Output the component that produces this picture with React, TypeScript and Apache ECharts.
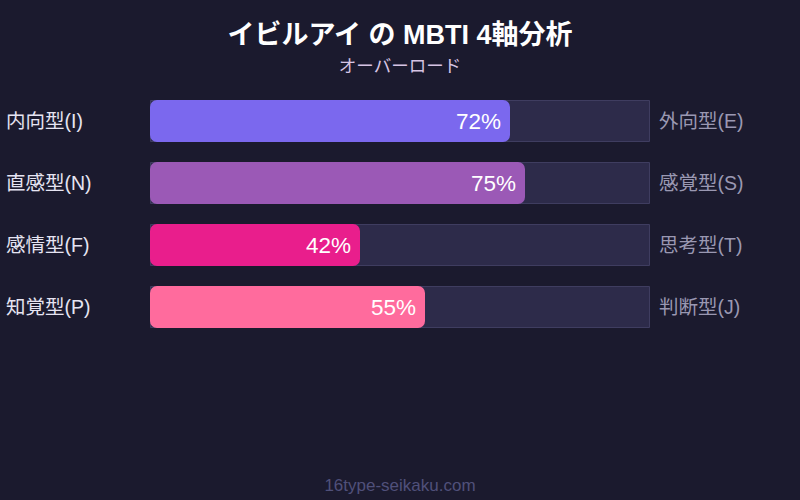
import React, { useEffect, useRef } from "react";
import * as echarts from "echarts";

const leftLabels = ["内向型(I)", "直感型(N)", "感情型(F)", "知覚型(P)"];
const rightLabels = ["外向型(E)", "感覚型(S)", "思考型(T)", "判断型(J)"];
const values = [72, 75, 42, 55];
const barColors = ["#7b68ee", "#9b59b6", "#e91e8c", "#ff6b9d"];
const fullValues = [100, 100, 100, 100];

const FONT = "'Liberation Sans', 'Noto Sans CJK JP', sans-serif";

export default function App() {
  const ref = useRef<HTMLDivElement>(null);
  useEffect(() => {
    if (!ref.current) return;
    const chart = echarts.init(ref.current, undefined, { renderer: "svg" });
    chart.setOption({
      animation: false,
      backgroundColor: "#1b1a2e",
      textStyle: { fontFamily: FONT },
      title: [
        {
          text: "イビルアイ の MBTI 4軸分析",
          left: "center",
          top: 16,
          textStyle: { color: "#ffffff", fontSize: 27, fontWeight: "bold", fontFamily: FONT },
        },
        {
          text: "オーバーロード",
          left: "center",
          top: 52,
          textStyle: { color: "#d6c4e4", fontSize: 17.5, fontWeight: "normal", fontFamily: FONT },
        },
        {
          text: "16type-seikaku.com",
          left: "center",
          top: 472,
          textStyle: { color: "#50507a", fontSize: 17, fontWeight: "normal", fontFamily: FONT },
        },
      ],
      grid: { left: 150, right: 150, top: 90, height: 248 },
      xAxis: {
        type: "value",
        min: 0,
        max: 100,
        show: false,
      },
      yAxis: [
        {
          type: "category",
          data: leftLabels,
          inverse: true,
          position: "left",
          axisLine: { show: false },
          axisTick: { show: false },
          axisLabel: {
            color: "#e6e4f2",
            fontSize: 19.5,
            align: "left",
            margin: 144,
            fontFamily: FONT,
          },
        },
        {
          type: "category",
          data: rightLabels,
          inverse: true,
          position: "right",
          axisLine: { show: false },
          axisTick: { show: false },
          axisLabel: {
            color: "#9a98b2",
            fontSize: 19.5,
            align: "left",
            margin: 9,
            fontFamily: FONT,
          },
        },
      ],
      series: [
        {
          type: "bar",
          data: fullValues,
          barWidth: 42,
          barGap: "-100%",
          silent: true,
          itemStyle: { color: "#2d2b4a", borderColor: "#3f3d60", borderWidth: 1 },
          z: 1,
        },
        {
          type: "bar",
          data: values.map((v, i) => ({ value: v, itemStyle: { color: barColors[i] } })),
          barWidth: 42,
          barGap: "-100%",
          itemStyle: { borderRadius: 7 },
          label: {
            show: true,
            position: "insideRight",
            distance: 9,
            formatter: "{c}%",
            color: "#ffffff",
            fontSize: 22.5,
            fontWeight: "normal",
            fontFamily: FONT,
          },
          z: 2,
        },
      ],
    });
    return () => chart.dispose();
  }, []);
  return (
    <div
      ref={ref}
      style={{ position: "absolute", left: 0, top: 0, width: 800, height: 500 }}
    />
  );
}
